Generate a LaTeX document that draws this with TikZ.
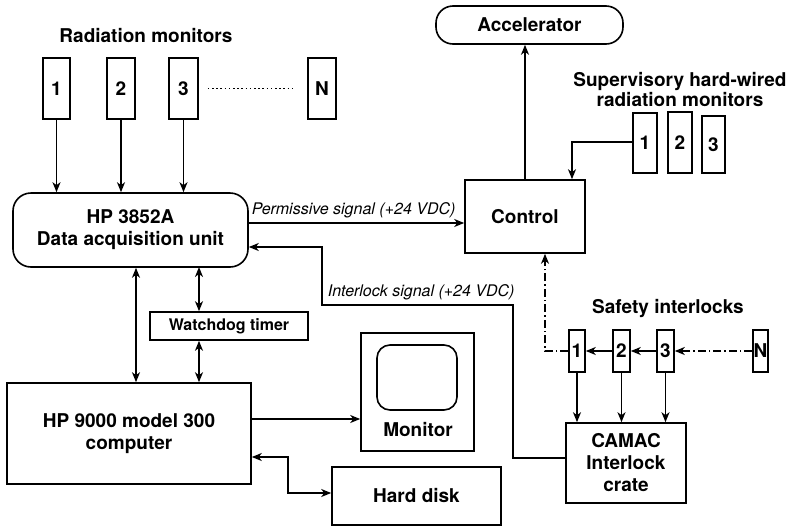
\documentclass[tikz,border=0pt]{standalone}
\usepackage{fontspec}
\setmainfont{TeX Gyre Heros}
\usetikzlibrary{arrows.meta}
\begin{document}
\begin{tikzpicture}[x=1pt,y=-1pt,
  line width=1.6pt,
  >={Stealth[length=10pt,width=8pt,inset=3pt]},
  box/.style={draw,rectangle,inner sep=0pt,font=\fontsize{19}{22}\selectfont\bfseries,align=center},
  rbox/.style={box,rounded corners=18pt},
  small/.style={box,font=\fontsize{16}{19}\selectfont\bfseries},
  lbl/.style={font=\fontsize{19}{22}\selectfont\bfseries,align=center,inner sep=0pt},
  sig/.style={font=\fontsize{16}{19}\selectfont\itshape,inner sep=0pt},
  dd/.style={dash pattern=on 8pt off 3pt on 1.5pt off 3pt}]
\useasboundingbox (0,0) rectangle (796,528);

% radiation monitors
\node[lbl] (rmt) at (146,36) {Radiation monitors};
\node[box,minimum width=27pt,minimum height=61pt] (m1) at (56.5,88.5) {1};
\node[box,minimum width=28pt,minimum height=61pt] (m2) at (121,88.5) {2};
\node[box,minimum width=29pt,minimum height=61pt] (m3) at (183.5,88.5) {3};
\node[box,minimum width=28pt,minimum height=61pt] (mN) at (322,88.5) {N};
\draw[line width=1.8pt,dash pattern=on 1.6pt off 2.6pt] ([xshift=9pt]m3.east) -- ([xshift=-13pt]mN.west);

% DAQ
\node[rbox,minimum width=235pt,minimum height=74pt] (daq) at (130.5,230) {HP 3852A\\Data acquisition unit};
\foreach \m in {m1,m2,m3}
  \draw[->] (\m.south) -- (\m.south |- daq.north);

% accelerator and control
\node[box,rounded corners=17pt,minimum width=187pt,minimum height=38pt] (acc) at (529.5,25) {Accelerator};
\node[box,minimum width=120pt,minimum height=73pt] (ctl) at (525,216.5) {Control};
\draw[->] (ctl.north) -- (ctl.north |- acc.south);

% supervisory monitors
\node[lbl] (sup) at (680,90) {Supervisory hard-wired\\[-2pt]radiation monitors};
\node[box,minimum width=24pt,minimum height=60pt] (s1) at (645,143) {1};
\node[box,minimum width=24pt,minimum height=61pt] (s2) at (680,142.5) {2};
\node[box,minimum width=23pt,minimum height=57pt] (s3) at (713.5,144.5) {3};
\coordinate (sc) at (572,142);
\draw[->] (s1.west |- sc) -- (sc) -- (sc |- ctl.north);

% permissive signal
\coordinate (pp) at (0,223);
\draw[->] (daq.east |- pp) -- (ctl.west |- pp);
\node[sig,anchor=south west] (pl) at (251,219) {Permissive signal (+24 VDC)};

% safety interlocks
\node[lbl] (sft) at (668,308) {Safety interlocks};
\node[box,minimum width=16pt,minimum height=42pt] (i1) at (577,351) {1};
\node[box,minimum width=17pt,minimum height=42pt] (i2) at (621.5,351) {2};
\node[box,minimum width=17pt,minimum height=42pt] (i3) at (665.5,351) {3};
\node[box,minimum width=15pt,minimum height=42pt] (iN) at (760.5,351) {N};
\draw[->,dd] (iN.west) -- (i3.east);
\draw[->] (i3.west) -- (i2.east);
\draw[->] (i2.west) -- (i1.east);
\coordinate (ic) at (545,351);
\draw[->,dd] (i1.west) -- (ic) -- (ic |- ctl.south);

% CAMAC
\node[box,minimum width=120pt,minimum height=80pt] (cam) at (626,463) {CAMAC\\Interlock\\crate};
\draw[->] (i1.south) -- (i1.south |- cam.north);
\draw[->] (i2.south) -- (i2.south |- cam.north);
\draw[->] (i3.south) -- (i3.south |- cam.north);

% interlock signal
\coordinate (q1) at (513,458);
\coordinate (q2) at (513,305);
\coordinate (q3) at (322,305);
\coordinate (q4) at (322,247);
\draw[->] (cam.west |- q1) -- (q1) -- (q2) -- (q3) -- (q4) -- (daq.east |- q4);
\node[sig,anchor=south west] (il) at (327,301) {Interlock signal (+24 VDC)};

% watchdog
\node[small,minimum width=158pt,minimum height=28pt] (wd) at (229,326) {Watchdog timer};

% HP 9000
\node[box,minimum width=244pt,minimum height=101pt] (hp) at (129,433.5) {HP 9000 model 300\\computer};
\draw[<->] (199,267) coordinate (w1) -- (w1 |- wd.north);
\draw[<->] (wd.south -| w1) -- (w1 |- hp.north);
\coordinate (dx) at (136,0);
\draw[<->] (dx |- daq.south) -- (dx |- hp.north);

% monitor
\node[draw,rectangle,minimum width=113pt,minimum height=118pt,inner sep=0pt] (mon) at (417.5,392) {};
\node[draw,rectangle,rounded corners=13pt,minimum width=80pt,minimum height=65pt,inner sep=0pt] (scr) at (417,377.5) {};
\node[lbl] (mtx) at (418,430) {Monitor};
\coordinate (mc) at (0,419);
\draw[->] (hp.east |- mc) -- (mon.west |- mc);

% hard disk
\node[box,minimum width=169pt,minimum height=58pt] (hd) at (416.5,496) {Hard disk};
\coordinate (h1) at (288,457);
\coordinate (h2) at (288,493);
\draw[<->] (hp.east |- h1) -- (h1) -- (h2) -- (hd.west |- h2);
\end{tikzpicture}
\end{document}
